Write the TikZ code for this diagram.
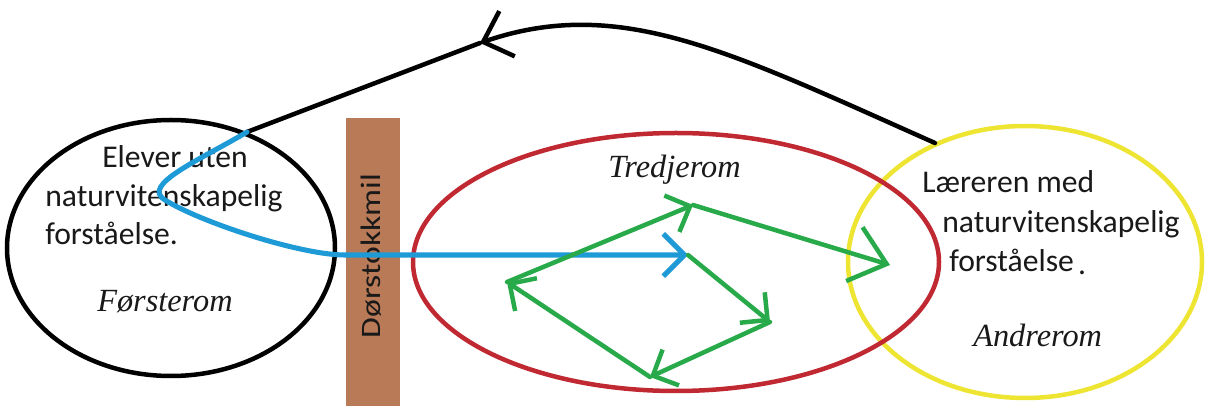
\documentclass[tikz,border=0pt]{standalone}
\usepackage{fontspec}
\setmainfont{Liberation Serif}
\newfontfamily\calib{Carlito}
\usetikzlibrary{arrows.meta}
\definecolor{redring}{RGB}{192,40,50}
\definecolor{yellowring}{RGB}{238,228,50}
\definecolor{bluepath}{RGB}{30,155,215}
\definecolor{greenpath}{RGB}{40,170,75}
\definecolor{brownbar}{RGB}{185,122,87}
\definecolor{txt}{RGB}{25,25,25}
\begin{document}
\begin{tikzpicture}[x=0.025cm,y=-0.025cm,
  ring/.style={line width=3.2pt},
  lbl/.style={inner sep=0pt, anchor=base west, text=txt, font=\calib\fontsize{22.5}{27}\selectfont},
  room/.style={inner sep=0pt, anchor=base west, text=txt, font=\itshape\fontsize{23}{27}\selectfont},
  blk/.style={line width=3.2pt, line cap=round, black},
  blu/.style={line width=3.6pt, line cap=round, bluepath},
  grn/.style={line width=3.2pt, line cap=round, greenpath, -{Straight Barb[length=14pt,width=28pt]}},
  grnbig/.style={line width=3.2pt, line cap=round, greenpath, -{Straight Barb[length=24pt,width=40pt]}}
]
\useasboundingbox (0,0) rectangle (1206,406);
\fill[white] (0,0) rectangle (1206,406);

% rooms
\draw[ring, black] (171,248) ellipse [x radius=164, y radius=128];
\draw[ring, yellowring] (1025,262) ellipse [x radius=177, y radius=136];
\draw[ring, redring] (676,262) ellipse [x radius=263, y radius=129];

% threshold bar
\fill[brownbar] (346,118) rectangle (400,406);
\node[rotate=90, inner sep=0pt, text=txt, font=\calib\fontsize{20}{24}\selectfont] (dm) at (371,256) {\scalebox{1.2}[1]{Dørstokkmil}};

% texts
\node[lbl] (e1) at (102,168) {Elever uten};
\node[lbl] (e2) at (45,207) {naturvitenskapelig};
\node[lbl] (e3) at (45,245) {forståelse.};
\node[lbl] (l1) at (922,193) {Læreren med};
\node[lbl] (l2) at (942,233) {naturvitenskapelig};
\node[lbl] (l3) at (949,272) {forståelse\hspace{3pt}\raisebox{-2pt}{.}};
\node[room] (r1) at (97,312) {Førsterom};
\node[room] (r3) at (608,178) {Tredjerom};
\node[room] (r2) at (973,347) {Andrerom};

% coordinates
\coordinate (yR) at (935,143);
\coordinate (bL) at (247,132);
\coordinate (bT) at (480,43);
\coordinate (bM) at (345,255);
\coordinate (bTip) at (688,255);
\coordinate (gC) at (770,322);
\coordinate (gD) at (650,377);
\coordinate (gA) at (507,282);
\coordinate (gB) at (693,205);
\coordinate (gE) at (890,265);

% black return path
\draw[blk, -{Straight Barb[length=18pt,width=34pt]}] (yR) .. controls (730,52) and (620,-5) .. (bT);
\draw[blk] (bT) -- (bL);

% blue path
\draw[blu, -{Straight Barb[length=15pt,width=30pt]}] (bL) .. controls (200,160) and (140,185) .. (165,200) .. controls (200,222) and (300,255) .. (bM) -- (bTip);

% green path
\draw[grn] (bTip) -- (gC);
\draw[grn] (gC) -- (gD);
\draw[grn] (gD) -- (gA);
\draw[grn] (gA) -- (gB);
\draw[grnbig] (gB) -- (gE);
\end{tikzpicture}
\end{document}
